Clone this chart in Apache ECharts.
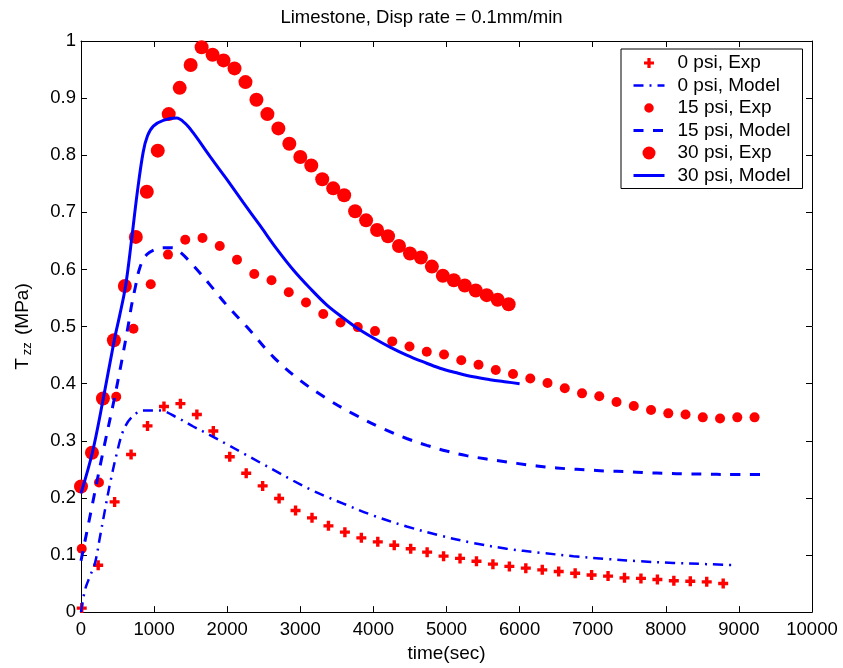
<!DOCTYPE html>
<html>
<head>
<meta charset="utf-8">
<script src="https://cdn.jsdelivr.net/npm/echarts@6/dist/echarts.min.js"></script>
<style>
html,body{margin:0;padding:0;background:#fff;}
#chart{width:843px;height:668px;}
</style>
</head>
<body>
<div id="chart"></div>
<script>
// ---- Data ----
const seriesNames = ['0 psi, Exp', '0 psi, Model', '15 psi, Exp', '15 psi, Model', '30 psi, Exp', '30 psi, Model'];

// 0 psi experiment (crosses)
const exp0Time = [10,235,460,685,910,1135,1360,1585,1810,2035,2260,2485,2710,2935,3160,3385,3610,3835,4060,4285,4510,4735,4960,5185,5410,5635,5860,6085,6310,6535,6760,6985,7210,7435,7660,7885,8110,8335,8560,8785];
const exp0Val = [0.007,0.082,0.193,0.276,0.326,0.360,0.365,0.346,0.317,0.272,0.243,0.221,0.199,0.178,0.165,0.151,0.140,0.130,0.123,0.117,0.111,0.105,0.098,0.094,0.089,0.084,0.080,0.077,0.074,0.071,0.068,0.065,0.063,0.060,0.059,0.057,0.055,0.054,0.053,0.050];

// 15 psi experiment (small circles)
const exp15Time = [10,246,482,718,954,1190,1426,1662,1898,2134,2370,2606,2842,3078,3314,3550,3786,4022,4258,4494,4730,4966,5202,5438,5674,5910,6146,6382,6618,6854,7090,7326,7562,7798,8034,8270,8506,8742,8978,9214];
const exp15Val = [0.111,0.227,0.377,0.496,0.574,0.626,0.652,0.655,0.641,0.617,0.592,0.581,0.560,0.542,0.522,0.507,0.499,0.492,0.474,0.465,0.456,0.451,0.441,0.433,0.424,0.417,0.409,0.401,0.392,0.383,0.378,0.368,0.361,0.354,0.348,0.346,0.341,0.339,0.341,0.341];

// 30 psi experiment (large circles)
const exp30Time = [0,150,300,450,600,750,900,1050,1200,1350,1500,1650,1800,1950,2100,2250,2400,2550,2700,2850,3000,3150,3300,3450,3600,3750,3900,4050,4200,4350,4500,4650,4800,4950,5100,5250,5400,5550,5700,5850];
const exp30Val = [0.220,0.279,0.374,0.476,0.571,0.657,0.736,0.808,0.872,0.918,0.958,0.989,0.976,0.966,0.952,0.928,0.897,0.872,0.847,0.820,0.797,0.782,0.758,0.742,0.730,0.702,0.686,0.669,0.658,0.641,0.628,0.621,0.605,0.589,0.581,0.572,0.563,0.555,0.547,0.539];

// 0 psi model (dash-dot)
const model0Time = [0,55,123,192,260,328,397,488,579,693,852,1080,1309,1536,1764,1993,2221,2448,2677,2905,3133,3360,3588,4000,4455,4911,5367,5823,6279,6735,7191,7647,8102,8559,8950];
const model0Val = [0,0.039,0.063,0.086,0.132,0.179,0.225,0.277,0.318,0.341,0.353,0.353,0.341,0.325,0.310,0.294,0.278,0.262,0.246,0.230,0.215,0.202,0.190,0.169,0.150,0.134,0.121,0.111,0.104,0.098,0.093,0.089,0.086,0.084,0.082];

// 15 psi model (dashed)
const model15Time = [0,150,300,450,550,650,693,740,807,900,1036,1150,1250,1350,1536,1765,1990,2265,2630,2995,3360,3725,4135,4455,4730,5000,5275,5550,5825,6100,6370,6645,6920,7190,7465,7740,8010,8285,8560,8835,9330];
const model15Val = [0.09,0.185,0.28,0.37,0.435,0.505,0.538,0.567,0.604,0.626,0.636,0.638,0.638,0.631,0.607,0.573,0.538,0.50,0.447,0.406,0.374,0.347,0.321,0.304,0.292,0.282,0.274,0.268,0.263,0.258,0.254,0.251,0.249,0.247,0.246,0.244,0.243,0.242,0.2415,0.241,0.241];

// 30 psi model (solid)
const model30Time = [0,155,305,455,530,610,690,770,850,910,990,1126,1309,1422,1536,1764,1993,2221,2448,2677,2905,3133,3360,3588,3770,4000,4227,4455,4683,4911,5140,5367,5595,5823,6000];
const model30Val = [0.208,0.279,0.374,0.476,0.52,0.571,0.650,0.735,0.805,0.834,0.851,0.861,0.865,0.856,0.839,0.798,0.758,0.717,0.677,0.636,0.599,0.567,0.538,0.515,0.498,0.480,0.464,0.450,0.438,0.427,0.419,0.412,0.407,0.403,0.400];

const xTicks = {min: 0, max: 10000, interval: 1000};
const yTicks = {min: 0, max: 1, interval: 0.1};

// ---- Chart ----
function pairs(t, v) { return t.map((x, i) => [x, v[i]]); }

const RED = '#ff0000';
const BLUE = '#0000ff';
const FONT = "'Liberation Sans', Arial, Helvetica, sans-serif";
const crossPath = 'path://M3.3,0H6.7V3.3H10V6.7H6.7V10H3.3V6.7H0V3.3H3.3Z';
const crossLegendPath = 'path://M2.6,0H7.4V2.6H10V7.4H7.4V10H2.6V7.4H0V2.6H2.6Z';

const axisCommon = {
  type: 'value',
  splitLine: {show: false},
  axisLine: {show: true, onZero: false, lineStyle: {color: '#000', width: 1}},
  axisTick: {show: true, inside: true, length: 6, lineStyle: {color: '#000'}},
};

const chart = echarts.init(document.getElementById('chart'), null, {renderer: 'canvas'});
chart.setOption({
  backgroundColor: '#fff',
  animation: false,
  textStyle: {fontFamily: FONT},
  title: {
    text: 'Limestone, Disp rate = 0.1mm/min',
    left: 'center',
    top: 3,
    textStyle: {fontSize: 18.5, fontWeight: 'normal', color: '#000', fontFamily: FONT}
  },
  grid: {left: 81, right: 31, top: 41, bottom: 52, containLabel: false},
  xAxis: [
    Object.assign({}, axisCommon, {
      position: 'bottom', min: xTicks.min, max: xTicks.max, interval: xTicks.interval,
      axisLabel: {color: '#000', fontSize: 18.5, margin: 8, fontFamily: FONT,
        formatter: function (v) { return String(v); }},
      name: 'time(sec)', nameLocation: 'middle', nameGap: 22,
      nameTextStyle: {color: '#000', fontSize: 19, fontFamily: FONT}
    }),
    Object.assign({}, axisCommon, {
      position: 'top', min: xTicks.min, max: xTicks.max, interval: xTicks.interval,
      axisLabel: {show: false}
    })
  ],
  yAxis: [
    Object.assign({}, axisCommon, {
      position: 'left', min: yTicks.min, max: yTicks.max, interval: yTicks.interval,
      axisLabel: {color: '#000', fontSize: 18.5, margin: 5, fontFamily: FONT,
        formatter: function (v) { return String(Math.round(v * 10) / 10); }},
      name: 'T{s|zz} (MPa)', nameLocation: 'middle', nameGap: 47,
      nameTextStyle: {color: '#000', fontSize: 19, fontFamily: FONT,
        rich: {s: {fontSize: 13, fontFamily: FONT, color: '#000', padding: [10, 2, 0, 3]}}}
    }),
    Object.assign({}, axisCommon, {
      position: 'right', min: yTicks.min, max: yTicks.max, interval: yTicks.interval,
      axisLabel: {show: false}
    })
  ],
  legend: {
    orient: 'vertical',
    left: 621, top: 49,
    padding: [4, 12, 3, 11],
    itemWidth: 31, itemHeight: 13, itemGap: 2.5,
    borderColor: '#000', borderWidth: 1, borderRadius: 0,
    backgroundColor: '#fff',
    selectedMode: false,
    textStyle: {fontSize: 19, lineHeight: 20, color: '#000', fontFamily: FONT, padding: [0, 0, 0, 8]},
    lineStyle: {width: 'inherit'},
    data: [
      {name: seriesNames[0], icon: crossLegendPath, itemStyle: {borderColor: '#fff', borderWidth: 3}},
      {name: seriesNames[1], itemStyle: {opacity: 0}},
      {name: seriesNames[2], icon: 'circle', itemStyle: {borderColor: '#fff', borderWidth: 3.5}},
      {name: seriesNames[3], itemStyle: {opacity: 0}},
      {name: seriesNames[4], icon: 'circle'},
      {name: seriesNames[5], itemStyle: {opacity: 0}}
    ]
  },
  series: [
    {name: seriesNames[0], type: 'scatter', data: pairs(exp0Time, exp0Val),
      symbol: crossPath, symbolSize: 10, itemStyle: {color: RED, opacity: 1}},
    {name: seriesNames[1], type: 'line', data: pairs(model0Time, model0Val),
      showSymbol: false, symbol: 'none', smooth: 0.35,
      itemStyle: {color: BLUE},
      lineStyle: {color: BLUE, width: 2.5, type: [10, 6, 2, 6]}},
    {name: seriesNames[2], type: 'scatter', data: pairs(exp15Time, exp15Val),
      symbol: 'circle', symbolSize: 10, itemStyle: {color: RED, opacity: 1}},
    {name: seriesNames[3], type: 'line', data: pairs(model15Time, model15Val),
      showSymbol: false, symbol: 'none', smooth: 0.35,
      itemStyle: {color: BLUE},
      lineStyle: {color: BLUE, width: 3, type: [10, 9.5]}},
    {name: seriesNames[4], type: 'scatter', data: pairs(exp30Time, exp30Val),
      symbol: 'circle', symbolSize: 14, itemStyle: {color: RED, opacity: 1}},
    {name: seriesNames[5], type: 'line', data: pairs(model30Time, model30Val),
      showSymbol: false, symbol: 'none', smooth: 0.35,
      itemStyle: {color: BLUE},
      lineStyle: {color: BLUE, width: 3, type: 'solid'}}
  ]
});
</script>
</body>
</html>
